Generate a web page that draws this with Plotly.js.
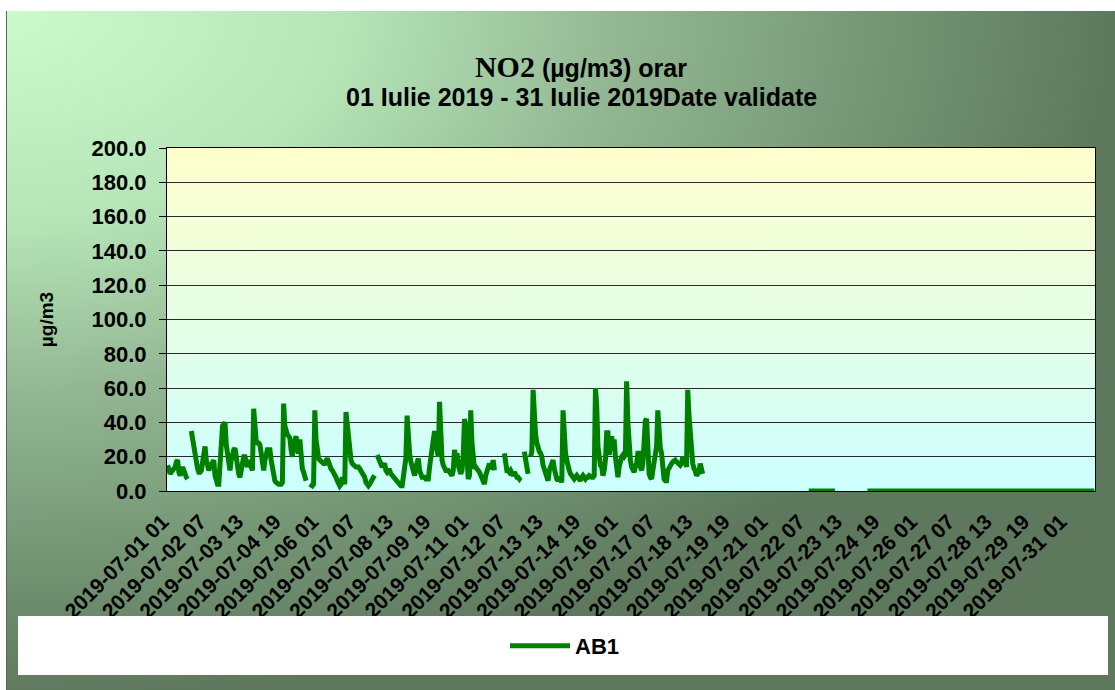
<!DOCTYPE html>
<html>
<head>
<meta charset="utf-8">
<script src="https://cdn.plot.ly/plotly-3.0.1.min.js"></script>
<style>
  html, body { margin: 0; padding: 0; background: #ffffff; }
  #wrap { position: relative; width: 1115px; height: 690px; overflow: hidden; }
  #bg { position: absolute; left: 6px; top: 11px; width: 1109px; height: 679px;
        border-left: 1px solid #566a56; box-sizing: border-box;
        background: radial-gradient(1110px 690px at 0 0, #cbfbcb 0%, #b6e6b8 30%, #93b793 55%, #789a78 76%, #5e785e 100%); }
  #chart { position: absolute; left: 0; top: 0; width: 1115px; height: 690px; }
</style>
</head>
<body>
<div id="wrap"><div id="bg"></div><div id="chart"></div></div>
<script>
// Hourly NO2 values (µg/m3), one array per day, hours 01..24
const d01 = [15,13,10,11,12,12,14,17,18,11,9,12,14,12,9,8,7,null,null,35,30,24,21,19];
const d02 = [13,11,11,12,16,22,26,18,13,12,14,15,17,18,9,6,4,4,14,33,38,39,40,27];
const d03 = [22,16,12,18,23,24,25,19,13,10,8,14,19,20,20,17,14,16,18,14,12,48,30,29];
const d04 = [28,28,27,20,13,12,18,23,24,24,24,18,12,9,6,5,4,4,4,4,5,51,38,34];
const d05 = [33,32,31,24,20,26,31,32,24,22,30,20,13,11,8,6,null,null,4,3,3,4,47,30];
const d06 = [20,19,18,17,16,16,16,17,19,17,14,13,12,11,9,8,6,4,3,4,8,6,4,46];
const d07 = [38,30,25,18,16,15,15,14,14,14,13,12,11,9,8,5,3,3,4,6,7,8,9,null];
const d08 = [21,19,18,16,14,15,16,12,11,12,12,10,9,8,8,7,6,4,3,3,3,8,14,19];
const d09 = [44,30,22,17,13,10,9,14,18,19,12,8,8,8,8,7,7,7,14,20,26,33,35,28];
const d10 = [24,20,52,32,18,15,13,12,12,12,11,10,9,12,24,19,22,15,12,10,12,21,42,38];
const d11 = [20,7,9,47,28,13,13,14,12,12,11,9,7,5,4,9,11,12,16,13,14,18,12,null];
const d12 = [null,null,null,null,null,null,22,12,12,12,11,12,11,9,11,9,8,8,7,8,null,null,23,16];
const d13 = [14,10,null,20,23,59,40,33,28,24,23,22,20,15,12,10,7,6,12,15,17,18,13,9];
const d14 = [7,6,8,7,5,47,30,22,18,13,12,10,9,8,7,8,9,8,7,6,8,9,8,7];
const d15 = [8,8,9,8,8,8,9,60,50,26,17,15,14,9,12,18,34,34,21,25,32,24,30,20];
const d16 = [12,8,14,18,20,21,20,21,64,40,24,18,14,12,11,14,16,22,22,14,12,16,40,41];
const d17 = [42,22,10,8,7,12,16,20,26,47,32,25,22,12,7,6,6,12,14,15,16,17,18,18];
const d18 = [17,16,15,15,16,20,18,17,14,59,44,30,26,16,13,12,9,10,11,16,13,10,null,null];
const d19 = [null,null,null,null,null,null,null,null,null,null,null,null,null,null,null,null,null,null,null,null,null,null,null,null];
const d20 = [null,null,null,null,null,null,null,null,null,null,null,null,null,null,null,null,null,null,null,null,null,null,null,null];
const d21 = [null,null,null,null,null,null,null,null,null,null,null,null,null,null,null,null,null,null,null,null,null,null,null,null];
const d22 = [null,null,null,null,null,null,null,null,null,null,0,0,0,0,0,0,0,0,0,0,0,0,0,0];
const d23 = [0,0,0,0,0,0,0,0,null,null,null,null,null,null,null,null,null,null,null,null,null,null,null,null];
const d24 = [null,null,null,null,null,null,null,null,null,0,0,0,0,0,0,0,0,0,0,0,0,0,0,0];
const d25 = [0,0,0,0,0,0,0,0,0,0,0,0,0,0,0,0,0,0,0,0,0,0,0,0];
const d26 = [0,0,0,0,0,0,0,0,0,0,0,0,0,0,0,0,0,0,0,0,0,0,0,0];
const d27 = [0,0,0,0,0,0,0,0,0,0,0,0,0,0,0,0,0,0,0,0,0,0,0,0];
const d28 = [0,0,0,0,0,0,0,0,0,0,0,0,0,0,0,0,0,0,0,0,0,0,0,0];
const d29 = [0,0,0,0,0,0,0,0,0,0,0,0,0,0,0,0,0,0,0,0,0,0,0,0];
const d30 = [0,0,0,0,0,0,0,0,0,0,0,0,0,0,0,0,0,0,0,0,0,0,0,0];
const d31 = [0,0,0,0,0,0,0,0,0,0,0,0,0,0,0,0,0,0,0,0,0,0,0,0];

const tickLabels = ["2019-07-01 01","2019-07-02 07","2019-07-03 13","2019-07-04 19","2019-07-06 01",
  "2019-07-07 07","2019-07-08 13","2019-07-09 19","2019-07-11 01","2019-07-12 07","2019-07-13 13",
  "2019-07-14 19","2019-07-16 01","2019-07-17 07","2019-07-18 13","2019-07-19 19","2019-07-21 01",
  "2019-07-22 07","2019-07-23 13","2019-07-24 19","2019-07-26 01","2019-07-27 07","2019-07-28 13",
  "2019-07-29 19","2019-07-31 01"];

const seriesName = "AB1";
const titleLine1 = "<span style='font-family:Liberation Serif,Times New Roman,serif;font-size:30px'>NO2</span> (µg/m3) orar";
const titleLine2 = "01 Iulie 2019 - 31 Iulie 2019Date validate";
const days = [d01,d02,d03,d04,d05,d06,d07,d08,d09,d10,d11,d12,d13,d14,d15,d16,d17,d18,d19,d20,d21,d22,d23,d24,d25,d26,d27,d28,d29,d30,d31];

// hourly category labels "2019-07-DD HH"
const hours = [];
const values = [];
days.forEach((arr, di) => {
  arr.forEach((v, hi) => {
    const dd = String(di + 1).padStart(2, '0');
    const hh = String(hi + 1).padStart(2, '0');
    hours.push('2019-07-' + dd + ' ' + hh);
    values.push(v);
  });
});

const FONT = 'Liberation Sans, Arial, sans-serif';

const plotGrad = "<svg xmlns='http://www.w3.org/2000/svg' width='100' height='100' preserveAspectRatio='none'>" +
  "<defs><linearGradient id='g' x1='0' y1='0' x2='0' y2='1'><stop offset='0' stop-color='#ffffcc'/>" +
  "<stop offset='1' stop-color='#ccffff'/></linearGradient></defs><rect width='100' height='100' fill='url(#g)'/></svg>";

const trace = {
  x: hours, y: values, type: 'scatter', mode: 'lines', name: seriesName,
  line: { color: '#008000', width: 5 }, connectgaps: false
};

const layout = {
  width: 1115, height: 690,
  margin: { l: 167, r: 20, t: 148, b: 199 },
  paper_bgcolor: 'rgba(0,0,0,0)',
  plot_bgcolor: 'rgba(0,0,0,0)',
  font: { family: FONT, color: '#000000' },
  title: {
    text: titleLine1,
    font: { family: FONT, size: 25, weight: 'bold', color: '#000' },
    x: 0.521, xref: 'container', xanchor: 'center',
    y: 1 - 68 / 690, yref: 'container', yanchor: 'middle'
  },
  annotations: [{
    text: titleLine2, showarrow: false,
    xref: 'paper', yref: 'paper',
    x: (581 - 167) / 928, y: 1 - (97 - 148) / 343, xanchor: 'center', yanchor: 'middle',
    font: { family: FONT, size: 25, weight: 'bold', color: '#000' }
  }],
  images: [{
    source: 'data:image/svg+xml;charset=utf-8,' + encodeURIComponent(plotGrad),
    xref: 'paper', yref: 'paper', x: 0, y: 1, sizex: 1, sizey: 1,
    xanchor: 'left', yanchor: 'top', sizing: 'stretch', layer: 'below'
  }],
  xaxis: {
    type: 'category', categoryorder: 'array', categoryarray: hours,
    range: [-0.5, hours.length - 0.5],
    tickmode: 'array', tickvals: tickLabels, ticktext: tickLabels,
    tickangle: -45, tickfont: { family: FONT, size: 21, weight: 'bold', color: '#000' },
    ticks: '', showgrid: false, zeroline: false,
    showline: true, linecolor: '#000', linewidth: 1, mirror: true,
    ticklabelstandoff: 9, ticklabelshift: -5,
    automargin: false
  },
  yaxis: {
    range: [0, 200], dtick: 20, tick0: 0, tickformat: '.1f',
    tickfont: { family: FONT, size: 22, weight: 'bold', color: '#000' },
    ticks: 'outside', ticklen: 7, tickcolor: '#000', tickwidth: 1,
    ticklabelstandoff: 8,
    showgrid: true, gridcolor: '#2a2a2a', gridwidth: 1, zeroline: false,
    showline: true, linecolor: '#000', linewidth: 1, mirror: true,
    title: { text: 'µg/m3', font: { family: FONT, size: 19, weight: 'bold', color: '#000' }, standoff: 32 },
    automargin: false
  },
  shapes: [{
    type: 'rect', xref: 'paper', yref: 'paper',
    x0: (18 - 167) / 928, x1: (1108 - 167) / 928,
    y0: 1 - (675 - 148) / 343, y1: 1 - (616 - 148) / 343,
    fillcolor: '#ffffff', line: { width: 0 }, layer: 'above'
  }],
  showlegend: true,
  legend: {
    orientation: 'h', x: (565 - 167) / 928, xanchor: 'center',
    y: 1 - (646 - 148) / 343, yanchor: 'middle',
    itemwidth: 60,
    bgcolor: 'rgba(0,0,0,0)', font: { family: FONT, size: 22, weight: 'bold', color: '#000' }
  }
};

Plotly.newPlot('chart', [trace], layout, { displayModeBar: false, staticPlot: true });
</script>
</body>
</html>
